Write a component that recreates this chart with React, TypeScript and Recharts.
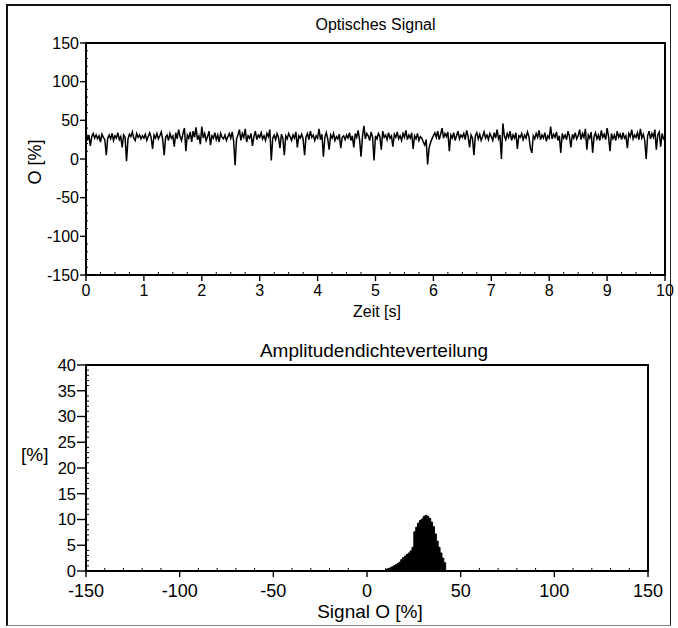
import React from 'react';
import { LineChart, Line, XAxis, YAxis, ReferenceArea, AreaChart, Area } from 'recharts';

const FONT = '"Liberation Sans", Arial, Helvetica, sans-serif';

// ---- Optisches Signal (time series, one sample every 0.025 s) ----
const signalTimeStep = 0.025;
const signalValues = [
  36, 24, 31, 17, 29, 33, 27, 31, 26, 30, 22, 32, 28, 25, 5, 27, 31, 26, 33, 24,
  30, 27, 34, 25, 29, 15, 31, 28, -3, 26, 32, 29, 35, 27, 24, 33, 28, 31, 26, 30,
  27, 32, 24, 29, 34, 28, 13, 31, 27, 33, 26, 30, 35, 25, 5, 28, 31, 24, 33, 27,
  30, 16, 34, 26, 38, 29, 24, 33, 40, 10, 31, 27, 35, 22, 36, 28, 41, 25, 30, 19,
  42, 27, 33, 24, 29, 36, 18, 30, 27, 34, 25, 31, 22, 33, 28, 26, 31, 24, 29, 33,
  27, 35, 23, -8, 26, 31, 38, 24, 33, 28, 39, 22, 30, 27, 33, 17, 29, 36, 25, 31,
  28, 34, 26, 30, 24, 33, 29, 38, -2, 27, 31, 25, 33, 28, 14, 32, 27, 5, 30, 26,
  33, 29, 24, 31, 27, 35, 15, 30, 27, 32, 26, 5, 29, 33, 25, 36, 28, 31, 24, 30,
  27, 39, 25, 32, 3, 28, 34, 26, 12, 31, 27, 33, 24, 29, 26, 32, 14, 28, 30, 25,
  31, 27, 34, 24, 30, 15, 33, 28, 37, 25, 3, 29, 43, 26, 33, 30, 24, 35, 28, -2,
  30, 26, 33, 29, 12, 36, 28, 31, 25, 34, 27, 30, 16, 32, 28, 35, 26, 30, 24, 33,
  28, 37, 25, 31, 27, 34, 13, 30, 26, 33, 24, 29, 27, 22, 18, 25, -7, 14, 21, 26,
  30, 34, 28, 36, 25, 32, 40, 27, 33, 29, 35, 10, 31, 27, 34, 24, 30, 36, 26, 31,
  28, 33, 25, 37, 29, 15, 31, 27, 5, 30, 34, 26, 32, 24, 29, 35, 27, 31, 25, 33,
  29, 24, 34, 27, 38, 26, 31, 0, 46, 30, 25, 33, 28, 36, 24, 31, 27, 34, 13, 30,
  28, 33, 25, 31, 27, 35, 29, 14, 8, 30, 26, 33, 28, 37, 25, 31, 27, 34, 23, 30,
  27, 42, 26, 32, 28, 35, 24, 30, 8, 33, 27, 31, 25, 36, 29, 15, 32, 27, 34, 26,
  30, 38, 25, 33, 28, 39, 12, 31, 27, 35, 8, 29, 34, 26, 31, 24, 37, 28, 32, 25,
  40, 29, 10, 33, 26, 31, 24, 36, 28, 32, 25, 34, 27, 30, 14, 33, 29, 38, 26, 31,
  28, 34, 25, 39, 27, 32, 24, 0, 30, 36, 26, 33, 28, 38, 12, 31, 35, 16, 33, 26,
  24,
];
const timeMajorTicks = [0, 1, 2, 3, 4, 5, 6, 7, 8, 9, 10];
const signalMajorTicks = [-150, -100, -50, 0, 50, 100, 150];

// ---- Amplitudendichteverteilung (histogram, 1 %-wide bins) ----
const histBins = [
  10, 11, 12, 13, 14, 15, 16, 17, 18, 19, 20, 21, 22, 23, 24, 25, 26,
  27, 28, 29, 30, 31, 32, 33, 34, 35, 36, 37, 38, 39, 40, 41, 42,
];
const histValues = [
  0.3, 0.5, 0.6, 0.8, 1.0, 1.2, 1.4, 1.7, 2.2, 2.6, 2.9, 3.2, 3.5, 3.9, 4.6, 7.6, 8.5,
  9.3, 9.8, 10.1, 10.6, 10.8, 10.6, 10.2, 9.5, 8.6, 7.2, 5.8, 4.6, 3.5, 2.5, 1.6, 0,
];
const ampMajorTicks = [-150, -100, -50, 0, 50, 100, 150];
const densityMajorTicks = [0, 5, 10, 15, 20, 25, 30, 35, 40];

const range = (a: number, b: number, s: number) => {
  const r: number[] = [];
  for (let v = a; v <= b + 1e-9; v += s) r.push(Math.round(v * 1000) / 1000);
  return r;
};

const signalData = signalValues.map((v, i) => ({ t: Math.round(i * signalTimeStep * 1000) / 1000, v }));
const histData = histBins.map((b, i) => ({ x: b, p: histValues[i] }));

const TS = 6;
const TM = 2;

function makeXTick(majors: number[], fontSize: number, majorLen: number, minorLen: number, baseOff: number) {
  return (props: any) => {
    const { x, y, payload } = props;
    const axisY = y - TS - TM;
    const v = payload.value;
    if (majors.includes(v)) {
      return (
        <g>
          <line x1={x} x2={x} y1={axisY} y2={axisY + majorLen} stroke="#000" strokeWidth={1.4} />
          <text x={x} y={axisY + baseOff} textAnchor="middle" fontSize={fontSize} fontFamily={FONT} fill="#000">
            {v}
          </text>
        </g>
      );
    }
    return <line x1={x} x2={x} y1={axisY} y2={axisY - minorLen} stroke="#000" strokeWidth={1} />;
  };
}

function makeYTick(majors: number[], fontSize: number, majorLen: number, minorLen: number, gap: number) {
  return (props: any) => {
    const { x, y, payload } = props;
    const axisX = x + TS + TM;
    const v = payload.value;
    if (majors.includes(v)) {
      return (
        <g>
          <line x1={axisX - majorLen} x2={axisX} y1={y} y2={y} stroke="#000" strokeWidth={1.4} />
          <text x={axisX - gap} y={y} dy="0.36em" textAnchor="end" fontSize={fontSize} fontFamily={FONT} fill="#000">
            {v}
          </text>
        </g>
      );
    }
    return <line x1={axisX} x2={axisX + minorLen} y1={y} y2={y} stroke="#000" strokeWidth={1} />;
  };
}

const TopXTick = makeXTick(timeMajorTicks, 16, 6, 3, 21);
const TopYTick = makeYTick(signalMajorTicks, 16, 6, 2, 7);
const BotXTick = makeXTick(ampMajorTicks, 18, 6, 3, 25.5);
const BotYTick = makeYTick(densityMajorTicks, 16.5, 9, 3, 10);

const textStyle: React.CSSProperties = {
  position: 'absolute',
  fontFamily: FONT,
  color: '#000',
  whiteSpace: 'nowrap',
  lineHeight: 1,
};

export default function App() {
  return (
    <div style={{ position: 'absolute', left: 0, top: 0, width: 678, height: 628, background: '#fff', overflow: 'hidden' }}>
      <div
        style={{
          position: 'absolute',
          left: 6,
          top: 4,
          width: 665,
          height: 622,
          borderLeft: '2px solid #111',
          borderTop: '2px solid #111',
          borderRight: '1.5px solid #222',
          borderBottom: '1.5px solid #888',
          boxSizing: 'border-box',
        }}
      />
      <div style={{ position: 'absolute', left: 0, top: 0 }}>
        <LineChart width={678} height={330} data={signalData} margin={{ top: 43, right: 13, bottom: 25, left: 0 }}>
          <XAxis
            dataKey="t"
            type="number"
            domain={[0, 10]}
            ticks={range(0, 10, 0.25)}
            interval={0}
            tickSize={TS}
            tickMargin={TM}
            tickLine={false}
            tick={TopXTick}
            height={30}
            axisLine={{ stroke: '#000', strokeWidth: 1.6 }}
            allowDataOverflow
          />
          <YAxis
            type="number"
            domain={[-150, 150]}
            ticks={range(-150, 150, 10)}
            interval={0}
            tickSize={TS}
            tickMargin={TM}
            tickLine={false}
            tick={TopYTick}
            width={86}
            axisLine={{ stroke: '#000', strokeWidth: 1.8 }}
            allowDataOverflow
          />
          <ReferenceArea x1={0} x2={10} y1={-150} y2={150} fill="none" stroke="#000" strokeWidth={2} ifOverflow="visible" />
          <Line dataKey="v" stroke="#000" strokeWidth={1.5} dot={false} isAnimationActive={false} />
        </LineChart>
      </div>
      <div style={{ position: 'absolute', left: 0, top: 330 }}>
        <AreaChart width={678} height={298} data={histData} margin={{ top: 35, right: 30, bottom: 27, left: 0 }}>
          <XAxis
            dataKey="x"
            type="number"
            domain={[-150, 150]}
            ticks={range(-150, 150, 10)}
            interval={0}
            tickSize={TS}
            tickMargin={TM}
            tickLine={false}
            tick={BotXTick}
            height={30}
            axisLine={{ stroke: '#000', strokeWidth: 2 }}
            allowDataOverflow
          />
          <YAxis
            type="number"
            domain={[0, 40]}
            ticks={range(0, 40, 1)}
            interval={0}
            tickSize={TS}
            tickMargin={TM}
            tickLine={false}
            tick={BotYTick}
            width={86}
            axisLine={{ stroke: '#000', strokeWidth: 1.8 }}
            allowDataOverflow
          />
          <ReferenceArea x1={-150} x2={150} y1={0} y2={40} fill="none" stroke="#000" strokeWidth={2} ifOverflow="visible" />
          <Area
            dataKey="p"
            type="stepAfter"
            stroke="#000"
            strokeWidth={1}
            fill="#000"
            fillOpacity={1}
            isAnimationActive={false}
          />
        </AreaChart>
      </div>

      <div style={{ ...textStyle, left: 86, width: 579, top: 17, fontSize: 16, textAlign: 'center' }}>Optisches Signal</div>
      <div style={{ ...textStyle, left: 86, width: 582, top: 304, fontSize: 16, textAlign: 'center' }}>Zeit [s]</div>
      <div
        style={{
          ...textStyle,
          left: 35,
          top: 162,
          fontSize: 18,
          transform: 'translate(-50%, -50%) rotate(-90deg)',
        }}
      >
        O [%]
      </div>

      <div style={{ ...textStyle, left: 0, width: 748, top: 341, fontSize: 19, textAlign: 'center' }}>Amplitudendichteverteilung</div>
      <div style={{ ...textStyle, left: 0, width: 740, top: 602, fontSize: 19, textAlign: 'center' }}>Signal O [%]</div>
      <div style={{ ...textStyle, left: 21, top: 445, fontSize: 19 }}>[%]</div>
    </div>
  );
}
